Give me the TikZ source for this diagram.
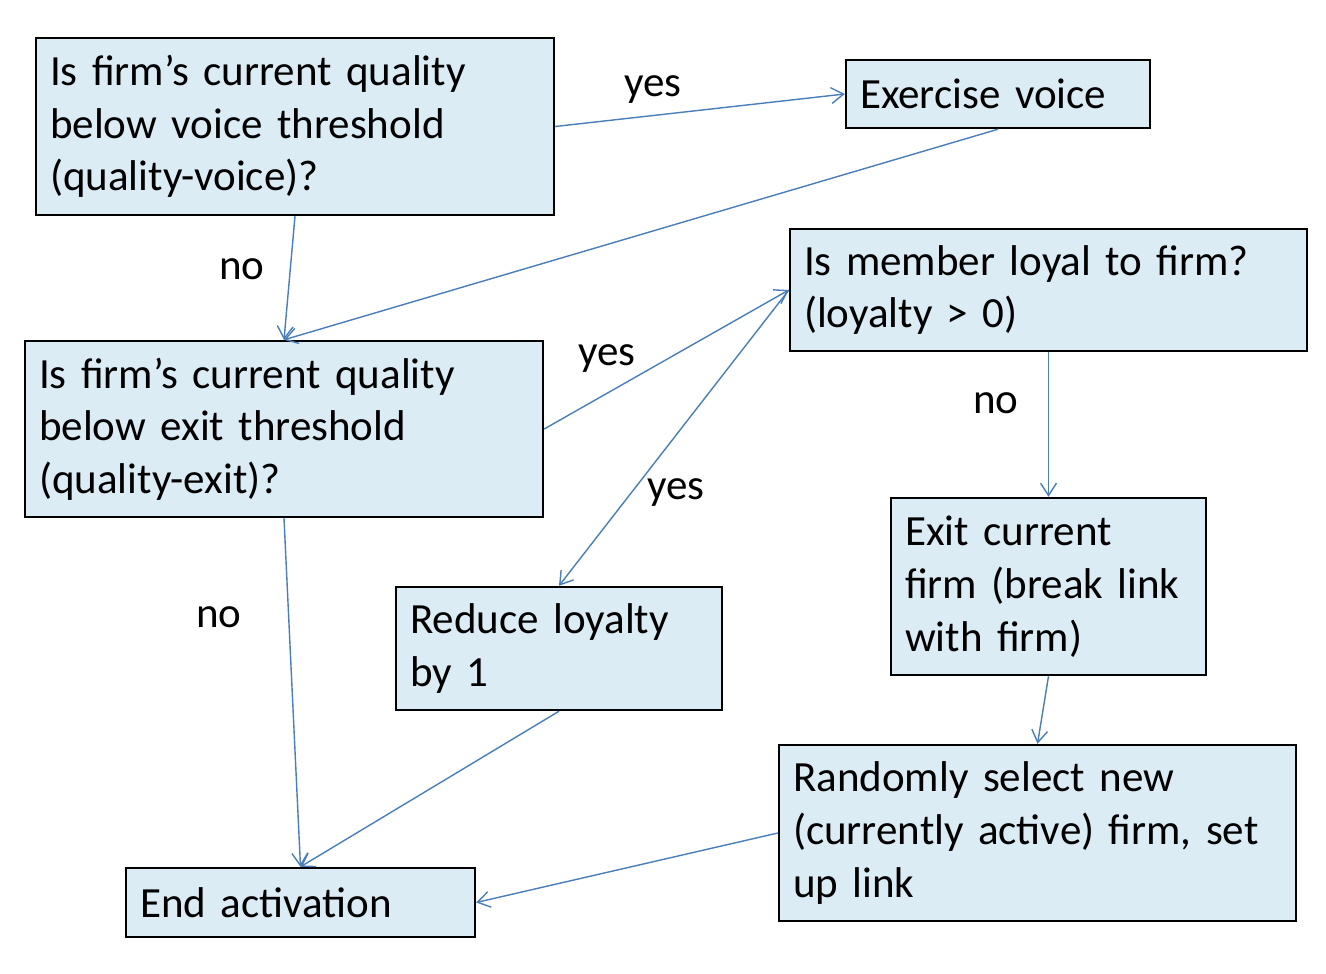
\documentclass[tikz,border=0pt]{standalone}
\usepackage{fontspec}
\setmainfont{Carlito}
\usetikzlibrary{arrows.meta, positioning}
\definecolor{boxfill}{HTML}{DBECF4}
\definecolor{linkblue}{HTML}{4A7EBB}

\begin{document}
\begin{tikzpicture}[x=0.02cm, y=-0.02cm,
    box/.style={draw=black, line width=1.4pt, fill=boxfill, align=left,
      inner xsep=0.28cm, font=\fontsize{24.5}{30}\selectfont},
    link/.style={linkblue, line width=0.8pt, -{Straight Barb[length=7pt, width=9pt]}},
    tag/.style={font=\fontsize{24.5}{30}\selectfont}]
      \useasboundingbox (0,0) rectangle (1326,974);

      % Decision boxes
      \node[box, minimum width=10.36cm, minimum height=3.54cm, text width=9.8cm] (qvoice) at (295,126.5)
        {Is firm’s current quality\\ below voice threshold\\ (quality-voice)?};
      \node[box, minimum width=10.36cm, minimum height=3.52cm, text width=9.8cm] (qexit) at (284,429)
        {Is firm’s current quality\\ below exit threshold\\ (quality-exit)?};
      \node[box, minimum width=10.34cm, minimum height=2.44cm, text width=9.78cm] (qloyal) at (1048.5,290)
        {Is member loyal to firm?\\ (loyalty > 0)};

      % Action boxes
      \node[box, minimum width=6.08cm, minimum height=1.36cm, text width=5.52cm] (voice) at (998,94)
        {Exercise voice};
      \node[box, minimum width=6.52cm, minimum height=2.46cm, text width=5.96cm] (reduce) at (559,648.5)
        {Reduce loyalty\\ by 1};
      \node[box, minimum width=6.3cm, minimum height=3.54cm, text width=5.74cm] (exitfirm) at (1048.5,586.5)
        {Exit current\\ firm (break link\\ with firm)};
      \node[box, minimum width=10.34cm, minimum height=3.52cm, text width=9.78cm] (select) at (1037.5,833)
        {Randomly select new\\ (currently active) firm, set\\ up link};
      \node[box, minimum width=6.98cm, minimum height=1.38cm, text width=6.42cm] (endact) at (300.5,902.5)
        {End activation};

      % Connectors
      \draw[link] (qvoice.east) -- (voice.west);
      \draw[link] (voice.south) -- (qexit.north);
      \draw[link] (qvoice.south) -- (qexit.north);
      \draw[link] (qexit.east) -- (qloyal.west);
      \draw[link] (qloyal.west) -- (reduce.north);
      \draw[link] (qloyal.south) -- (exitfirm.north);
      \draw[link] (qexit.south) -- (endact.north);
      \draw[link] (reduce.south) -- (endact.north);
      \draw[link] (exitfirm.south) -- (select.north);
      \draw[link] (select.west) -- (endact.east);

      % Labels
      \node[tag] (yes1) at (653,90) {yes};
      \node[tag] (no1) at (242,269) {no};
      \node[tag] (yes2) at (607,359) {yes};
      \node[tag] (yes3) at (676,493) {yes};
      \node[tag] (no2) at (996,403) {no};
      \node[tag] (no3) at (219,617) {no};
    \end{tikzpicture}
\end{document}
